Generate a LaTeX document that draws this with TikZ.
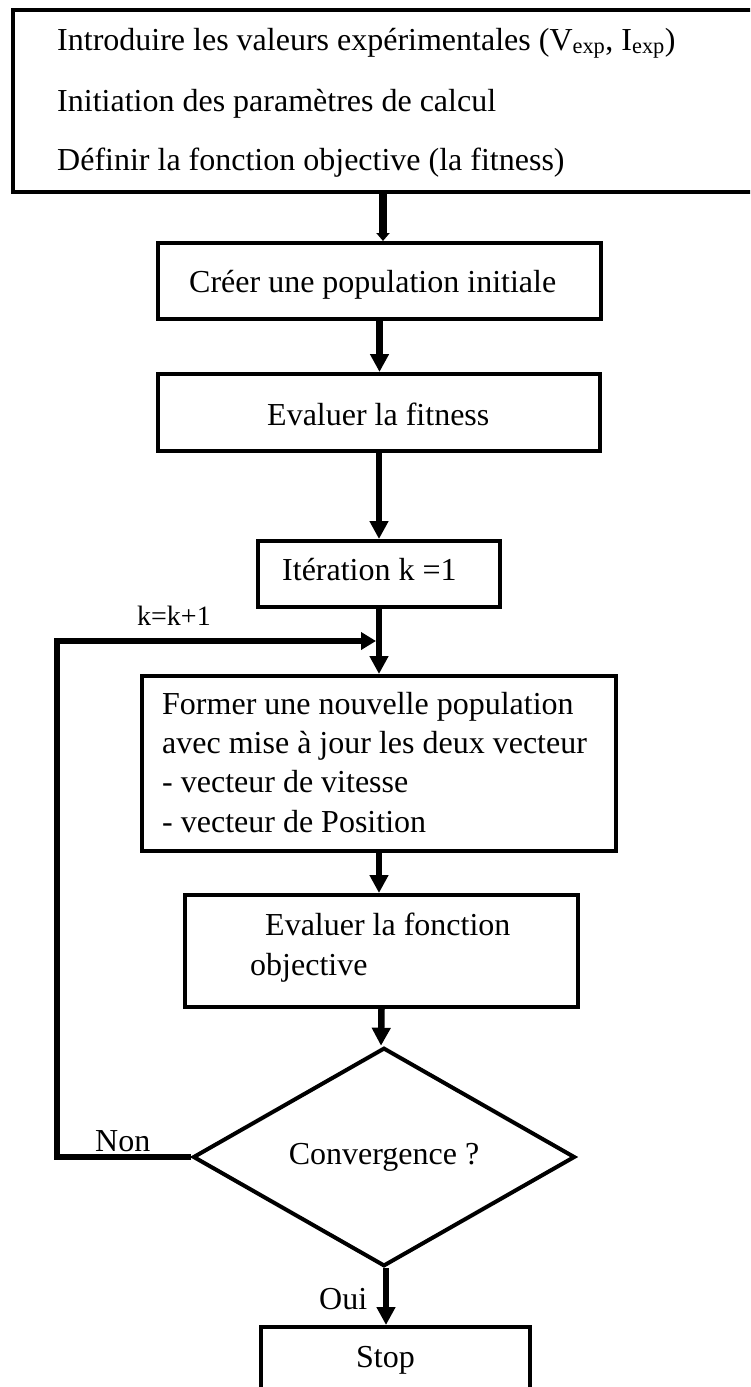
\documentclass[tikz,border=0pt]{standalone}
\usepackage{fontspec}
\setmainfont{Liberation Serif}
\usetikzlibrary{arrows.meta,shapes.geometric}
\begin{document}
\begin{tikzpicture}[x=1pt,y=-1pt,
  box/.style={draw, rectangle, line width=4pt, inner sep=0pt},
  txt/.style={anchor=base west, inner sep=0pt, font=\fontsize{32}{39.3}\selectfont},
  small/.style={anchor=base west, inner sep=0pt, font=\fontsize{28}{34}\selectfont},
  flow/.style={line width=6.5pt, -{Triangle[width=18pt,length=18pt]}},
  heavy/.style={line width=8pt, -{Triangle[width=13pt,length=8pt]}},
  back/.style={line width=6.5pt, -{Triangle[width=17pt,length=15pt]}}]

\useasboundingbox (0,0) rectangle (750,1387);
\clip (0,0) rectangle (750,1387);

% input block
\node[box, minimum width=757pt, minimum height=182pt] (init) at (391.5,101) {};
\node[txt] (init1) at (57,50) {Introduire les valeurs expérimentales (V\textsubscript{exp}, I\textsubscript{exp})};
\node[txt] (init2) at (57,111) {Initiation des paramètres de calcul};
\node[txt] (init3) at (57,170) {Définir la fonction objective (la fitness)};

% initial population
\node[box, minimum width=443pt, minimum height=76pt] (cree) at (379.5,281) {};
\node[txt] (creet) at (189,292) {Créer une population initiale};

% first evaluation
\node[box, minimum width=442pt, minimum height=77pt] (evalfit) at (379,412.5) {};
\node[txt] (evalfitt) at (267,425) {Evaluer la fitness};

% iteration counter
\node[box, minimum width=242pt, minimum height=66pt] (iter) at (379,574) {};
\node[txt] (itert) at (282,580) {Itération k =1};

% velocity / position update
\node[box, minimum width=474pt, minimum height=175pt] (former) at (379,763.5) {};
\node[txt] (former1) at (162,714) {Former une nouvelle population};
\node[txt] (former2) at (162,753.3) {avec mise à jour les deux vecteur};
\node[txt] (former3) at (162,792.6) {- vecteur de vitesse};
\node[txt] (former4) at (162,832) {- vecteur de Position};

% objective evaluation
\node[box, minimum width=393pt, minimum height=112pt] (evalobj) at (381.5,951) {};
\node[txt] (evalobj1) at (265,935) {Evaluer la fonction};
\node[txt] (evalobj2) at (250,975) {objective};

% stopping test
\node[draw, diamond, line width=4pt, inner sep=0pt,
      minimum width=382pt, minimum height=182pt,
      font=\fontsize{32}{39.3}\selectfont] (conv) at (384,1157) {Convergence ?};

% end
\node[box, minimum width=269pt, minimum height=93pt] (stop) at (395.5,1373.5) {};
\node[txt] (stopt) at (356,1367) {Stop};

% branch labels
\node[small] (kinc) at (137,625) {k=k+1};
\node[txt] (non) at (95,1151) {Non};
\node[txt] (oui) at (319,1309) {Oui};

% main flow
\draw[heavy] ([xshift=-8.5pt]init.south) -- ([xshift=3.5pt]cree.north);
\draw[flow] (cree.south) -- (cree.south |- evalfit.north);
\draw[flow] (evalfit.south) -- (iter.north);
\draw[flow] (iter.south) -- (former.north);
\draw[flow] (former.south) -- (former.south |- evalobj.north);
\draw[flow] (evalobj.south) -- ([xshift=-3pt]conv.north);
\coordinate (yes) at ([xshift=2pt]conv.south);
\draw[flow] (yes) -- (yes |- stop.north);

% loop back to the update step
\coordinate (loopbot) at (57,1157);
\coordinate (looptop) at (57,641);
\coordinate (merge) at (iter.south |- looptop);
\draw[back] (conv.west) -- (loopbot) -- (looptop) -- ([xshift=-3pt]merge);

\end{tikzpicture}
\end{document}
